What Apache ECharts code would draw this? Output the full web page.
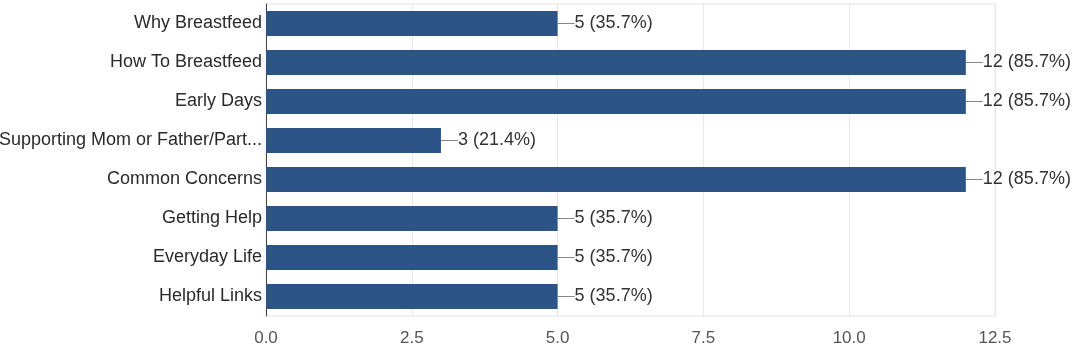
<!DOCTYPE html>
<html>
<head>
<meta charset="utf-8">
<script src="https://cdn.jsdelivr.net/npm/echarts@6/dist/echarts.min.js"></script>
<style>
  html, body { margin: 0; padding: 0; background: #fff; }
  #chart { width: 1078px; height: 363px; }
</style>
</head>
<body>
<div id="chart"></div>
<script>
// categories top to bottom
const categories = [
  'Why Breastfeed',
  'How To Breastfeed',
  'Early Days',
  'Supporting Mom or Father/Part...',
  'Common Concerns',
  'Getting Help',
  'Everyday Life',
  'Helpful Links'
];
const counts = [5, 12, 12, 3, 12, 5, 5, 5];
const percents = ['35.7', '85.7', '85.7', '21.4', '85.7', '35.7', '35.7', '35.7'];
const xTicks = [0, 2.5, 5, 7.5, 10, 12.5];

const chart = echarts.init(document.getElementById('chart'));

const option = {
  animation: false,
  textStyle: { fontFamily: '"Liberation Sans", Arial, sans-serif' },
  grid: {
    left: 266, right: 83, top: 4, bottom: 47,
    outerBoundsMode: 'none',
    containLabel: false,
    show: true, borderColor: '#e4e4e4', borderWidth: 1
  },
  xAxis: {
    type: 'value',
    min: xTicks[0],
    max: xTicks[xTicks.length - 1],
    interval: 2.5,
    axisLine: { show: false },
    axisTick: { show: false },
    splitLine: { lineStyle: { color: '#e8e8e8' } },
    axisLabel: {
      color: '#555', fontSize: 17, margin: 14,
      formatter: v => v.toFixed(1)
    }
  },
  yAxis: {
    type: 'category',
    inverse: true,
    data: categories,
    axisLine: { show: true, lineStyle: { color: '#444', width: 1 } },
    axisTick: { show: false },
    axisLabel: { color: '#2a2a2a', fontSize: 18, margin: 4 }
  },
  series: [{
    type: 'bar',
    data: counts,
    barWidth: '64%',
    itemStyle: { color: '#2c5486' },
    label: {
      show: true,
      position: 'right',
      distance: 0,
      color: '#333',
      fontSize: 18,
      formatter: p => '{ln|}' + p.value + ' (' + percents[p.dataIndex] + '%)',
      rich: {
        ln: { width: 17, height: 1, backgroundColor: '#888', padding: 0 }
      }
    }
  }]
};

chart.setOption(option);
</script>
</body>
</html>
